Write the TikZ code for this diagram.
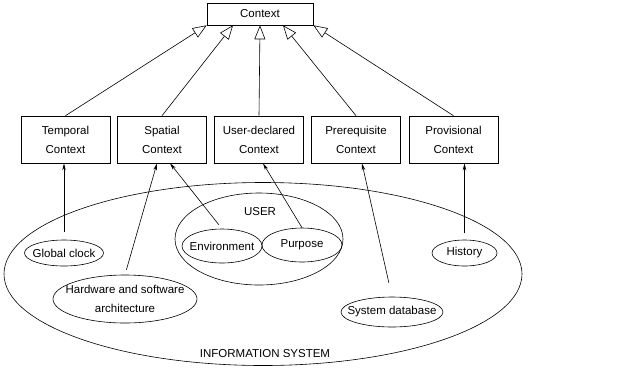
\documentclass[tikz,border=0pt]{standalone}
\usepackage{fontspec}
\setmainfont{Liberation Sans}
\usetikzlibrary{shapes.geometric,arrows.meta}

\begin{document}
\begin{tikzpicture}[x=1pt,y=-1pt,line width=.6pt,font=\fontsize{11.5}{19}\selectfont]
\tikzstyle{ctxbox}=[draw,minimum width=89pt,minimum height=47pt,align=center,inner sep=2pt]
\tikzstyle{source}=[draw,ellipse,inner xsep=-10pt,inner ysep=-5pt,align=center]
\tikzstyle{isa}=[-{Triangle[open,length=14pt,width=11pt]}]
\tikzstyle{feeds}=[-{Stealth[length=7pt,width=3.5pt]}]
\useasboundingbox (0,0) rectangle (629,368);
    % top class
    \node[draw,minimum width=106pt,minimum height=22pt,inner sep=0pt] (context) at (260,14) {Context};
    % sub-classes
    \node[ctxbox] (temporal) at (65.5,139.5) {Temporal\\Context};
    \node[ctxbox] (spatial) at (162,139.5) {Spatial\\Context};
    \node[ctxbox] (userdecl) at (259,139.5) {User-declared\\Context};
    \node[ctxbox] (prereq) at (356,139.5) {Prerequisite\\Context};
    \node[ctxbox] (provis) at (453.5,139.5) {Provisional\\Context};
    % information system and user
    \node[draw,ellipse,minimum width=518pt,minimum height=183pt,inner sep=0pt] (infosys) at (263,274) {};
    \node (infolabel) at (265,354) {INFORMATION SYSTEM};
    \node[draw,ellipse,minimum width=168pt,minimum height=92pt,inner sep=0pt] (user) at (259,239) {};
    \node (userlabel) at (260,212) {USER};
    % sources
    \node[source,minimum width=79pt,minimum height=26pt] (gclock) at (64,253) {Global clock};
    \node[source,minimum width=144pt,minimum height=48pt] (hwsw) at (125,299) {Hardware and software\\architecture};
    \node[source,minimum width=80pt,minimum height=34pt] (environ) at (222,246) {Environment};
    \node[source,minimum width=80pt,minimum height=34pt] (purpose) at (302,245) {Purpose};
    \node[source,minimum width=102pt,minimum height=30pt] (sysdb) at (392,312) {System database};
    \node[source,minimum width=65pt,minimum height=26pt] (history) at (464.5,253) {History};
    % generalisation arrows
    \draw[isa] (temporal.north) to (context.south west);
    \draw[isa] (spatial.north) to ([xshift=-27pt]context.south);
    \draw[isa] (userdecl.north) to (context.south);
    \draw[isa] (prereq.north) to ([xshift=23pt]context.south);
    \draw[isa] (provis.north) to (context.south east);
    % data sources
    \draw[feeds,shorten <=8pt] (gclock.north) to (gclock.north |- temporal.south);
    \draw[feeds,shorten <=5pt] (hwsw.north) to ([xshift=-5pt]spatial.south);
    \draw[feeds,shorten <=5pt] (environ.north) to ([xshift=8pt]spatial.south);
    \draw[feeds] (purpose.north) to ([xshift=4pt]userdecl.south);
    \draw[feeds,shorten <=14pt] (sysdb.north) to ([xshift=6pt]prereq.south);
    \draw[feeds,shorten <=7pt] (history.north) to (history.north |- provis.south);
\end{tikzpicture}
\end{document}
